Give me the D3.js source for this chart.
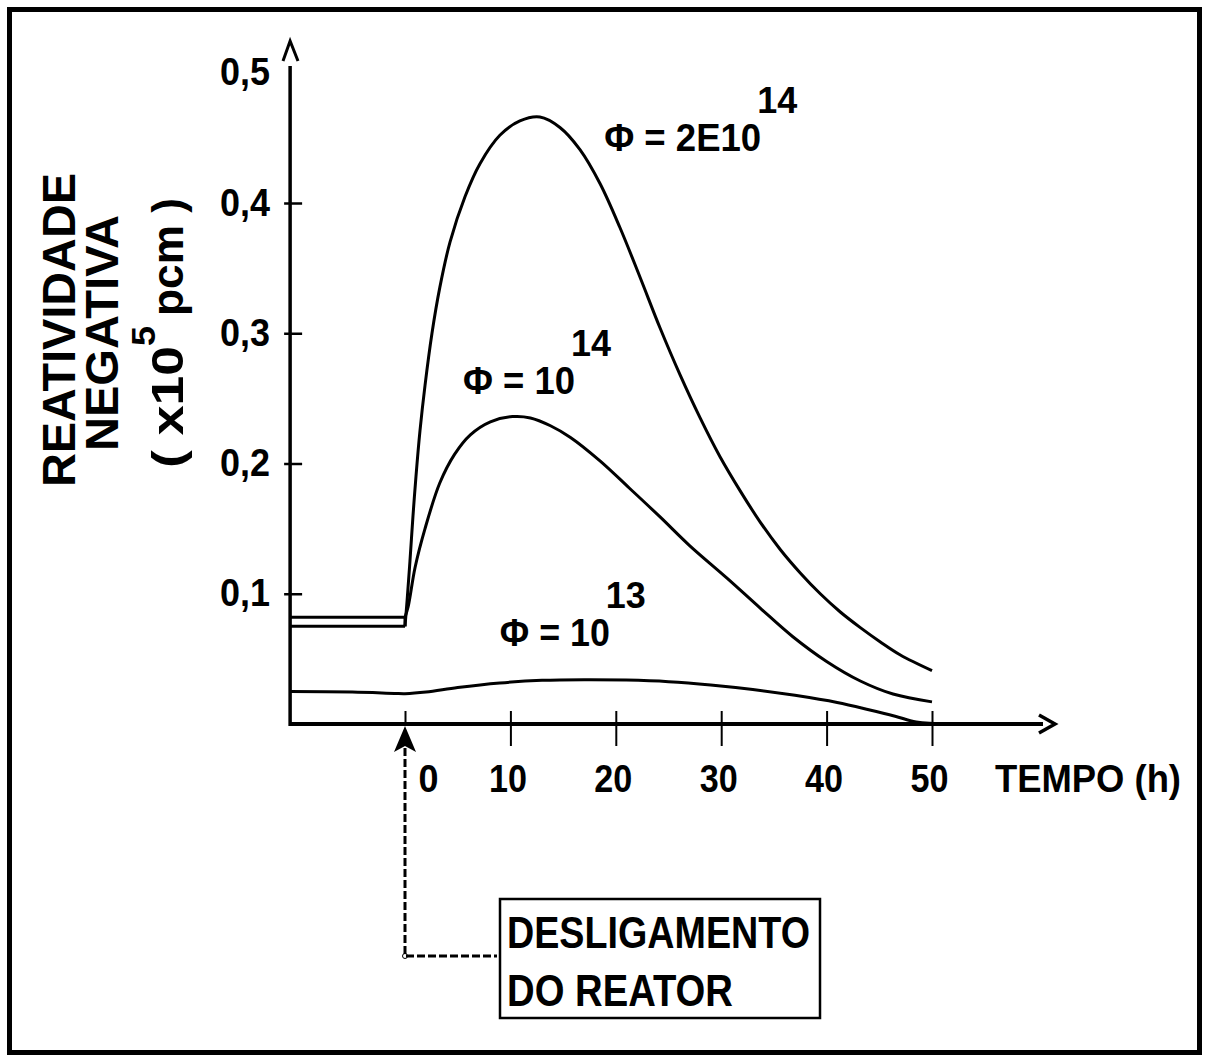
<!DOCTYPE html>
<html>
<head>
<meta charset="utf-8">
<script src="https://cdn.jsdelivr.net/npm/d3@7"></script>
<style>
  html, body { margin: 0; padding: 0; background: #fff; }
  svg { display: block; }
  text { font-family: "Liberation Sans", Arial, sans-serif; font-weight: bold; fill: #000; }
</style>
</head>
<body>
<svg id="chart" width="1205" height="1062"></svg>
<script>
// ---------- data ----------
const yTicks = [0.1, 0.2, 0.3, 0.4, 0.5];
const xTicks = [0, 10, 20, 30, 40, 50];

// Phi = 2E10^14
const topT = [-10.9, 0, 0.2, 0.47, 0.76, 1.04, 1.42, 1.9, 2.56, 3.3, 4.27, 5.7, 7.1, 9.0, 10.9, 12.8, 14.7, 16.6, 18.5, 20.4, 22.3, 24.2, 26.1, 28.0, 29.9, 31.8, 33.7, 35.6, 37.5, 39.4, 41.3, 43.2, 45.1, 47.0, 50];
const topV = [0.075, 0.075, 0.095, 0.125, 0.16, 0.19, 0.225, 0.26, 0.30, 0.335, 0.37, 0.405, 0.43, 0.452, 0.463, 0.466, 0.458, 0.441, 0.415, 0.381, 0.343, 0.304, 0.268, 0.235, 0.205, 0.179, 0.155, 0.134, 0.116, 0.100, 0.086, 0.074, 0.063, 0.053, 0.041];
// Phi = 10^14
const midT = [-10.9, 0, 0.3, 0.95, 1.9, 3.3, 4.7, 6.2, 8.1, 10.2, 11.9, 13.8, 15.7, 18.5, 21.3, 24.2, 27.0, 30.55, 33.7, 36.8, 40, 43.2, 46.3, 50];
const midV = [0.082, 0.082, 0.09, 0.12, 0.15, 0.185, 0.207, 0.222, 0.232, 0.236, 0.235, 0.229, 0.22, 0.202, 0.181, 0.159, 0.137, 0.112, 0.089, 0.067, 0.048, 0.033, 0.023, 0.017];
// Phi = 10^13
const lowT = [-10.9, -5, -1, 0, 2, 5, 9, 13, 17, 21, 25, 29, 33, 37, 41, 44, 46.5, 48.5, 51.7];
const lowV = [0.0250, 0.0245, 0.0235, 0.0233, 0.0245, 0.0280, 0.0315, 0.0335, 0.0340, 0.0337, 0.0325, 0.0300, 0.0265, 0.0220, 0.0165, 0.0110, 0.0060, 0.0015, 0.0];

const curveLabels = [
  { base: "Φ = 2E10", exp: "14", t: 18.9, v: 0.440 },
  { base: "Φ = 10",   exp: "14", t: 5.5,  v: 0.253 },
  { base: "Φ = 10",   exp: "13", t: 9.0,  v: 0.060 }
];

// ---------- scales ----------
const x = d3.scaleLinear().domain([0, 50]).range([405, 932]);
const y = d3.scaleLinear().domain([0, 0.5]).range([724, 72.75]);
const tMin = -10.9;

const svg = d3.select("#chart");

// outer frame
svg.append("rect").attr("x", 9.5).attr("y", 9.5).attr("width", 1190).attr("height", 1043)
  .attr("fill", "none").attr("stroke", "#000").attr("stroke-width", 5);

function txt(xp, yp, s, size, len, anchor) {
  const t = svg.append("text").attr("x", xp).attr("y", yp).attr("font-size", size)
    .attr("text-anchor", anchor || "start").text(s);
  if (len) t.attr("textLength", len).attr("lengthAdjust", "spacingAndGlyphs");
  return t;
}

// ---------- axes ----------
const xAxis = d3.axisBottom(x).tickValues(xTicks).tickSize(0).tickFormat(d => d);
const gx = svg.append("g").attr("transform", `translate(0,${y(0)})`).call(xAxis);
gx.select(".domain").remove();
gx.selectAll(".tick line").attr("y1", -13).attr("y2", d => d === 0 ? 0 : 22).attr("stroke", "#000").attr("stroke-width", 2);
gx.selectAll(".tick text").attr("font-size", 38).attr("dy", 0).attr("y", 68)
  .attr("dx", d => d === 0 ? 23 : -3)
  .style("font-family", '"Liberation Sans", Arial, sans-serif').style("font-weight", "bold")
  .each(function(d){ d3.select(this).attr("textLength", d === 0 ? 20 : 38).attr("lengthAdjust", "spacingAndGlyphs"); });

const yAxis = d3.axisLeft(y).tickValues(yTicks).tickSize(0).tickFormat(d => d.toFixed(1).replace(".", ","));
const gy = svg.append("g").attr("transform", `translate(${x(tMin)},0)`).call(yAxis);
gy.select(".domain").remove();
gy.selectAll(".tick line").attr("x1", -6).attr("x2", d => d === 0.5 ? -6 : 12).attr("stroke", "#000").attr("stroke-width", 2.5);
gy.selectAll(".tick text").attr("font-size", 38).attr("x", -20).attr("dy", 12)
  .style("font-family", '"Liberation Sans", Arial, sans-serif').style("font-weight", "bold")
  .attr("textLength", 50).attr("lengthAdjust", "spacingAndGlyphs");

// axis lines
const xLeft = x(tMin);
svg.append("line").attr("x1", xLeft).attr("x2", 1043).attr("y1", y(0)).attr("y2", y(0))
  .attr("stroke", "#000").attr("stroke-width", 4);
svg.append("line").attr("x1", xLeft).attr("x2", xLeft).attr("y1", y(0) + 2).attr("y2", 66)
  .attr("stroke", "#000").attr("stroke-width", 3.5);
// open arrow heads
svg.append("path").attr("d", `M1039,${y(0) - 9} L1055,${y(0)} L1039,${y(0) + 9}`)
  .attr("fill", "none").attr("stroke", "#000").attr("stroke-width", 3.5);
svg.append("path").attr("d", `M283,61 L${xLeft},41 L298,61`)
  .attr("fill", "none").attr("stroke", "#000").attr("stroke-width", 3);

// ---------- curves ----------
const lineLin = d3.line().x(d => x(d[0])).y(d => y(d[1]));
const lineSm = d3.line().x(d => x(d[0])).y(d => y(d[1])).curve(d3.curveCatmullRom.alpha(0.5));

function drawSeries(T, V, flatN) {
  const pts = T.map((t, i) => [t, V[i]]);
  if (flatN) {
    svg.append("path").attr("d", lineLin(pts.slice(0, flatN))).attr("fill", "none")
      .attr("stroke", "#000").attr("stroke-width", 3);
    svg.append("path").attr("d", lineSm(pts.slice(flatN - 1))).attr("fill", "none")
      .attr("stroke", "#000").attr("stroke-width", 3);
  } else {
    svg.append("path").attr("d", lineSm(pts)).attr("fill", "none")
      .attr("stroke", "#000").attr("stroke-width", 3);
  }
}
drawSeries(topT, topV, 2);
drawSeries(midT, midV, 2);
drawSeries(lowT, lowV, 0);
// short joint at shutdown between the two plateaus
svg.append("line").attr("x1", x(0)).attr("x2", x(0)).attr("y1", y(topV[1])).attr("y2", y(midV[1]))
  .attr("stroke", "#000").attr("stroke-width", 3);

// ---------- curve labels ----------
const lblLens = [157, 112, 110];
curveLabels.forEach((c, i) => {
  const bx = x(c.t), by = y(c.v);
  txt(bx, by, c.base, 38, lblLens[i]);
  txt(bx + lblLens[i] - 4, by - 38, c.exp, 36, 40);
});

// ---------- y title ----------
function vtxt(cx, cy, s, size, len) {
  const t = svg.append("text").attr("transform", `translate(${cx},${cy}) rotate(-90)`)
    .attr("font-size", size).attr("text-anchor", "middle").text(s);
  if (len) t.attr("textLength", len).attr("lengthAdjust", "spacingAndGlyphs");
  return t;
}
vtxt(75, 330, "REATIVIDADE", 46, 314);
vtxt(118, 333, "NEGATIVA", 46, 236);
vtxt(183, 407, "( x10", 44, 122);
vtxt(155, 336, "5", 34, 20);
vtxt(183, 257, "pcm )", 44, 118);

// x title
txt(995, 792, "TEMPO (h)", 38, 186);

// ---------- shutdown arrow & box ----------
const x0 = x(0);
svg.append("path").attr("d", `M${x0},${y(0) + 2} L${x0 + 11},${y(0) + 28} L${x0},${y(0) + 22} L${x0 - 11},${y(0) + 28} Z`)
  .attr("fill", "#000");
svg.append("path").attr("d", `M${x0},${y(0) + 24} L${x0},956 L497,956`)
  .attr("fill", "none").attr("stroke", "#000").attr("stroke-width", 3).attr("stroke-dasharray", "8,3");
svg.append("circle").attr("cx", x0).attr("cy", 956).attr("r", 2.5).attr("fill", "none").attr("stroke", "#000").attr("stroke-width", 1);

svg.append("rect").attr("x", 500).attr("y", 899).attr("width", 320).attr("height", 119)
  .attr("fill", "none").attr("stroke", "#000").attr("stroke-width", 2.5);
txt(507, 948, "DESLIGAMENTO", 44, 303);
txt(507, 1006, "DO REATOR", 44, 226);
</script>
</body>
</html>
